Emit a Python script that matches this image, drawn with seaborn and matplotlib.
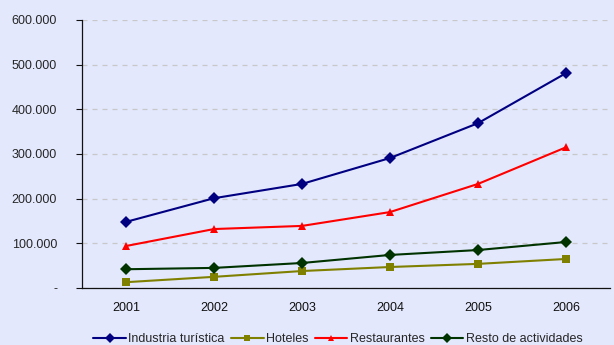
import matplotlib
matplotlib.use("Agg")
import matplotlib.pyplot as plt
import matplotlib.ticker as mticker
import numpy as np
import pandas as pd
import seaborn as sns

years = ["2001", "2002", "2003", "2004", "2005", "2006"]
industria = [148000, 201000, 233000, 291000, 369000, 481000]
hoteles = [13000, 25000, 38000, 47000, 54000, 65000]
restaurantes = [94000, 132000, 139000, 170000, 233000, 315000]
resto = [42000, 45000, 56000, 74000, 85000, 103000]

series_names = ["Industria turística", "Hoteles", "Restaurantes", "Resto de actividades"]
series_values = [industria, hoteles, restaurantes, resto]

df = pd.DataFrame({
    "pos": np.tile(np.arange(len(years)), len(series_names)),
    "valor": np.concatenate(series_values),
    "serie": np.repeat(series_names, len(years)),
})

bg = "#E3E8FD"
sns.set_theme(style="white")
plt.rcParams["font.family"] = ["Liberation Sans", "DejaVu Sans"]

fig = plt.figure(figsize=(6.14, 3.45), dpi=100, facecolor=bg)
ax = fig.add_axes([82 / 614, 1 - 288 / 345, (610 - 82) / 614, (288 - 20) / 345])
ax.set_facecolor(bg)

palette = {
    "Industria turística": "#000080",
    "Hoteles": "#808000",
    "Restaurantes": "#FF0000",
    "Resto de actividades": "#003300",
}
markers = {
    "Industria turística": "D",
    "Hoteles": "s",
    "Restaurantes": "^",
    "Resto de actividades": "D",
}
sns.lineplot(data=df, x="pos", y="valor", hue="serie", style="serie",
             palette=palette, markers=markers, dashes=False,
             markersize=6, linewidth=1.5, markeredgewidth=0, ax=ax,
             hue_order=series_names, style_order=series_names)

ax.set_xlim(-0.5, len(years) - 0.5)
ax.set_ylim(0, 600000)
ax.set_yticks(np.arange(0, 600001, 100000))

def fmt(v, _):
    if v == 0:
        return "-"
    return f"{int(v):,}".replace(",", ".")

ax.yaxis.set_major_formatter(mticker.FuncFormatter(fmt))
ax.set_xticks(np.arange(len(years)))
ax.set_xticklabels(years)
ax.set_xticks(np.arange(-0.5, len(years), 1), minor=True)
ax.tick_params(axis="x", which="major", length=0, pad=10, labelsize=9, colors="#111111")
ax.tick_params(axis="x", which="minor", length=4, width=0.8, color="#333333", direction="out")
ax.tick_params(axis="y", which="major", length=4, width=0.8, color="#111111",
               direction="out", labelsize=9, pad=14, left=True)

ax.grid(axis="y", color="#C8C8C8", linestyle=(0, (4, 4)), linewidth=0.9)
ax.set_axisbelow(True)
for side in ["top", "right"]:
    ax.spines[side].set_visible(False)
for side in ["left", "bottom"]:
    ax.spines[side].set_color("#111111")
    ax.spines[side].set_linewidth(0.9)

ax.set_xlabel("")
ax.set_ylabel("")
handles, labels = ax.get_legend_handles_labels()
for h in handles:
    h.set_markersize(5)
ax.legend(handles, labels, loc="center", bbox_to_anchor=(0.485, -0.19), ncol=4,
          frameon=False, fontsize=9, handlelength=2.6, handletextpad=0.2,
          columnspacing=0.5, borderaxespad=0)

fig.savefig("out.png", dpi=100, facecolor=bg)
